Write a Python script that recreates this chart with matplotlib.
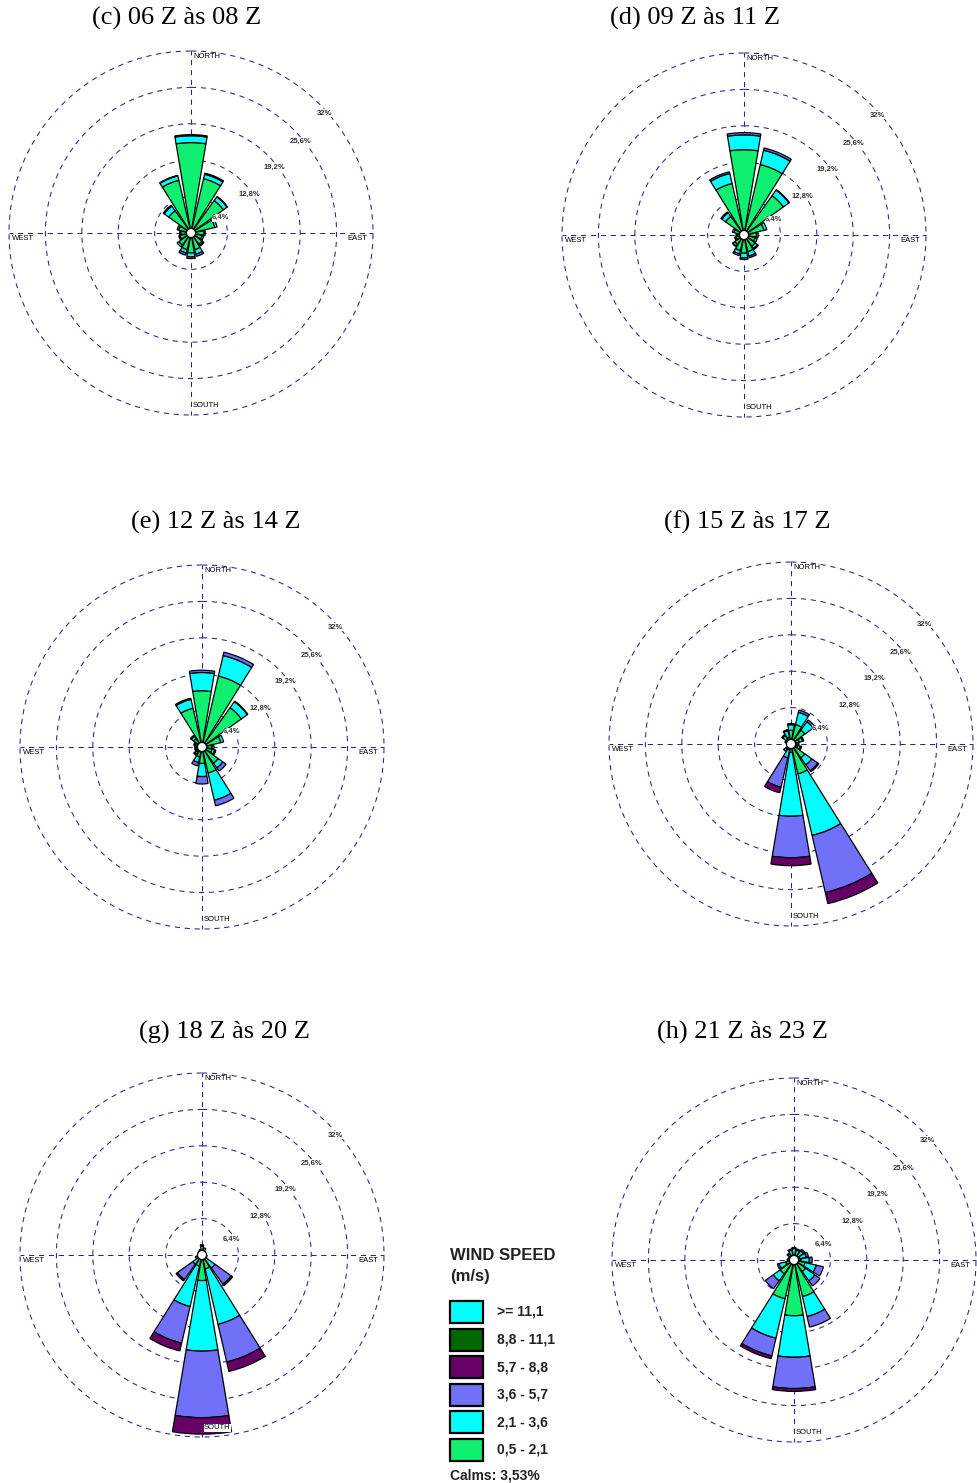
import numpy as np
import matplotlib
matplotlib.use("Agg")
from matplotlib import pyplot as plt
from matplotlib.patches import Rectangle

# direcoes (16 setores, sentido horario a partir do norte)
directions = ["N", "NNE", "NE", "ENE", "E", "ESE", "SE", "SSE",
              "S", "SSW", "SW", "WSW", "W", "WNW", "NW", "NNW"]

# frequencias (%) por classe de velocidade, para cada periodo
# (c) 06 Z as 08 Z
c_05_21 = [15.9, 9.8, 7.0, 4.3, 2.3, 2.0, 2.4, 3.0, 3.5, 3.0, 2.6, 2.0, 1.8, 2.2, 4.8, 9.5]
c_21_36 = [1.2, 0.8, 0.8, 0.4, 0.2, 0.3, 0.3, 0.8, 0.7, 0.6, 0.4, 0.2, 0.2, 0.3, 1.0, 0.8]
c_36_57 = [0.2, 0.2, 0.1, 0.0, 0.0, 0.0, 0.1, 0.4, 0.3, 0.4, 0.0, 0.0, 0.0, 0.0, 0.1, 0.1]
c_57_88 = [0.0, 0.0, 0.0, 0.0, 0.0, 0.0, 0.0, 0.0, 0.0, 0.0, 0.0, 0.0, 0.0, 0.0, 0.1, 0.0]
# (d) 09 Z as 11 Z
d_05_21 = [15.0, 12.7, 8.5, 3.6, 2.2, 2.0, 2.4, 3.0, 3.2, 2.8, 2.0, 1.5, 1.2, 1.8, 4.0, 9.3]
d_21_36 = [2.6, 2.6, 1.2, 0.5, 0.3, 0.4, 0.5, 0.8, 0.8, 0.6, 0.4, 0.2, 0.2, 0.3, 0.8, 1.8]
d_36_57 = [0.4, 0.4, 0.1, 0.0, 0.0, 0.0, 0.2, 0.3, 0.3, 0.3, 0.1, 0.0, 0.0, 0.0, 0.2, 0.3]
d_57_88 = [0.0] * 16
# (e) 12 Z as 14 Z
e_05_21 = [9.9, 12.8, 8.5, 3.4, 1.8, 1.8, 3.5, 4.7, 2.9, 1.8, 1.2, 1.0, 1.0, 1.2, 1.8, 7.0]
e_21_36 = [3.2, 3.7, 1.3, 0.5, 0.3, 0.5, 1.0, 4.9, 2.3, 1.0, 0.4, 0.3, 0.3, 0.3, 0.5, 1.6]
e_36_57 = [0.4, 0.6, 0.1, 0.0, 0.0, 0.2, 0.7, 1.0, 1.3, 0.6, 0.2, 0.0, 0.0, 0.0, 0.2, 0.2]
e_57_88 = [0.0] * 16
# (f) 15 Z as 17 Z
f_05_21 = [2.4, 3.5, 3.0, 1.5, 1.0, 1.2, 3.0, 5.4, 1.5, 1.0, 0.5, 0.5, 0.5, 0.7, 1.0, 1.2]
f_21_36 = [1.0, 2.2, 1.8, 0.6, 0.4, 0.5, 1.5, 11.1, 11.2, 1.5, 0.6, 0.3, 0.3, 0.4, 0.8, 1.2]
f_36_57 = [0.2, 0.4, 0.4, 0.2, 0.0, 0.2, 1.3, 10.3, 7.3, 5.3, 0.5, 0.0, 0.0, 0.0, 0.2, 0.2]
f_57_88 = [0.0, 0.0, 0.0, 0.0, 0.0, 0.0, 0.2, 2.0, 1.4, 1.0, 0.0, 0.0, 0.0, 0.0, 0.0, 0.0]
# (g) 18 Z as 20 Z
g_05_21 = [0.8, 0.8, 0.5, 0.4, 0.3, 0.4, 0.8, 2.5, 4.5, 2.0, 0.5, 0.3, 0.3, 0.3, 0.5, 0.6]
g_21_36 = [0.8, 0.5, 0.3, 0.2, 0.2, 0.3, 2.0, 10.0, 12.4, 7.3, 1.5, 0.5, 0.3, 0.2, 0.3, 0.4]
g_36_57 = [0.2, 0.0, 0.0, 0.0, 0.0, 0.2, 3.5, 6.8, 11.7, 6.6, 3.3, 0.4, 0.0, 0.0, 0.0, 0.0]
g_57_88 = [0.0, 0.0, 0.0, 0.0, 0.0, 0.0, 0.3, 1.7, 2.9, 1.4, 0.3, 0.0, 0.0, 0.0, 0.0, 0.0]
# (h) 21 Z as 23 Z
h_05_21 = [0.8, 0.8, 0.8, 1.0, 1.2, 2.0, 2.5, 6.6, 9.8, 7.0, 3.0, 1.5, 0.6, 0.5, 0.6, 0.8]
h_21_36 = [1.2, 1.0, 1.2, 1.2, 1.5, 2.0, 2.0, 3.6, 7.3, 7.1, 1.5, 1.2, 0.6, 0.5, 0.7, 1.0]
h_36_57 = [0.2, 0.2, 0.3, 0.4, 0.5, 1.3, 1.1, 1.9, 5.5, 3.2, 1.7, 0.3, 0.0, 0.0, 0.2, 0.2]
h_57_88 = [0.0, 0.0, 0.0, 0.0, 0.0, 0.0, 0.0, 0.0, 0.5, 0.5, 0.0, 0.0, 0.0, 0.0, 0.0, 0.0]

titles = ["(c) 06 Z às 08 Z", "(d) 09 Z às 11 Z", "(e) 12 Z às 14 Z",
          "(f) 15 Z às 17 Z", "(g) 18 Z às 20 Z", "(h) 21 Z às 23 Z"]

ringValues = [6.4, 12.8, 19.2, 25.6, 32.0]
ringLabels = ["6,4%", "12,8%", "19,2%", "25,6%", "32%"]

speedLabels = [">= 11,1", "8,8 - 11,1", "5,7 - 8,8", "3,6 - 5,7", "2,1 - 3,6", "0,5 - 2,1"]
speedColors = ["#00FFFF", "#006600", "#660066", "#7070F8", "#00FFFF", "#10F070"]
calmsText = "Calms: 3,53%"

panels = [
    [c_05_21, c_21_36, c_36_57, c_57_88],
    [d_05_21, d_21_36, d_36_57, d_57_88],
    [e_05_21, e_21_36, e_36_57, e_57_88],
    [f_05_21, f_21_36, f_36_57, f_57_88],
    [g_05_21, g_21_36, g_36_57, g_57_88],
    [h_05_21, h_21_36, h_36_57, h_57_88],
]
# cores das classes usadas nas rosas (de dentro para fora)
classColors = ["#10F070", "#00FFFF", "#7070F8", "#660066"]

# layout em pixels
W, H = 977, 1483
centers = [(191, 233), (744, 235), (202, 747), (791, 744), (202, 1255), (794, 1260)]
titlePos = [(177, 18), (695, 18), (216, 522), (747, 522), (224, 1032), (742, 1032)]
radiusPx = 182
gridColor = "#24248c"
dash = (0, (5, 4.5))
labelFont = "Liberation Sans"

fig = plt.figure(figsize=(W / 100, H / 100), dpi=100)
fig.patch.set_facecolor("white")

angles = np.deg2rad(np.arange(len(directions)) * 22.5)
barWidth = np.deg2rad(19)
circ = np.linspace(0, 2 * np.pi, 361)

for i in range(len(panels)):

    cx, cy = centers[i]
    ax = fig.add_axes([(cx - radiusPx) / W, 1 - (cy + radiusPx) / H,
                       2 * radiusPx / W, 2 * radiusPx / H], projection="polar")
    ax.set_theta_zero_location("N")
    ax.set_theta_direction(-1)
    ax.set_ylim(0, 32)
    ax.set_axis_off()

    # aneis e eixos tracejados
    for r in ringValues:
        ax.plot(circ, np.full_like(circ, r), color=gridColor, lw=0.75, ls=dash,
                zorder=1, clip_on=False)
    for t in [0, np.pi / 2, np.pi, 3 * np.pi / 2]:
        ax.plot([t, t], [0, 32], color=gridColor, lw=0.75, ls=dash, zorder=1, clip_on=False)

    # barras empilhadas
    bottom = np.zeros(len(directions))
    for k in range(len(panels[i])):
        vals = np.array(panels[i][k])
        mask = vals > 0
        ax.bar(angles[mask], vals[mask], width=barWidth, bottom=bottom[mask],
               color=classColors[k], edgecolor="black", linewidth=0.9, zorder=3)
        bottom = bottom + vals

    # circulo de calmaria
    ax.fill(circ, np.full_like(circ, 0.8), facecolor="white", edgecolor="black",
            linewidth=0.9, zorder=5)

    # rotulos dos aneis
    labAng = [63, 56, 52, 50, 48]
    for r, lab, a in zip(ringValues, ringLabels, labAng):
        ax.text(np.deg2rad(a), r - 0.5, lab, fontsize=5.5, family=labelFont,
                fontweight="bold", color="#333333", ha="center", va="center", zorder=6,
                bbox=dict(facecolor="white", edgecolor="none", pad=0.3))

    # rotulos das direcoes
    bb = dict(facecolor="white", edgecolor="none", pad=0.3)
    ax.annotate("NORTH", xy=(0, 32), xytext=(1.5, -1.5), textcoords="offset points",
                ha="left", va="top", fontsize=5.5, family=labelFont, zorder=6, bbox=bb)
    ax.annotate("SOUTH", xy=(np.pi, 32), xytext=(1.5, 4), textcoords="offset points",
                ha="left", va="bottom", fontsize=5.5, family=labelFont, zorder=6, bbox=bb)
    ax.annotate("WEST", xy=(3 * np.pi / 2, 32), xytext=(2, -1.5), textcoords="offset points",
                ha="left", va="top", fontsize=5.5, family=labelFont, zorder=6, bbox=bb)
    ax.annotate("EAST", xy=(np.pi / 2, 32), xytext=(-4, -1.5), textcoords="offset points",
                ha="right", va="top", fontsize=5.5, family=labelFont, zorder=6, bbox=bb)

    tx, ty = titlePos[i]
    fig.text(tx / W, 1 - ty / H, titles[i], ha="center", va="center",
             fontsize=19, family="Liberation Serif")

# legenda
lax = fig.add_axes([0, 0, 1, 1])
lax.set_xlim(0, W)
lax.set_ylim(H, 0)
lax.set_axis_off()
lax.patch.set_alpha(0)

lax.text(450, 1255, "WIND SPEED", fontsize=12, fontweight="bold", family=labelFont,
         ha="left", va="center", color="#222222")
lax.text(450, 1277, "(m/s)", fontsize=12, fontweight="bold", family=labelFont,
         ha="left", va="center", color="#222222")
for j in range(len(speedLabels)):
    yc = 1312 + j * 27.6
    lax.add_patch(Rectangle((450, yc - 11), 33, 22, facecolor=speedColors[j],
                            edgecolor="black", linewidth=1.6))
    lax.text(497, yc, speedLabels[j], fontsize=10, fontweight="bold", family=labelFont,
             ha="left", va="center", color="#222222")
lax.text(450, 1476, calmsText, fontsize=10, fontweight="bold", family=labelFont,
         ha="left", va="center", color="#222222")

plt.savefig("out.png", dpi=100)
